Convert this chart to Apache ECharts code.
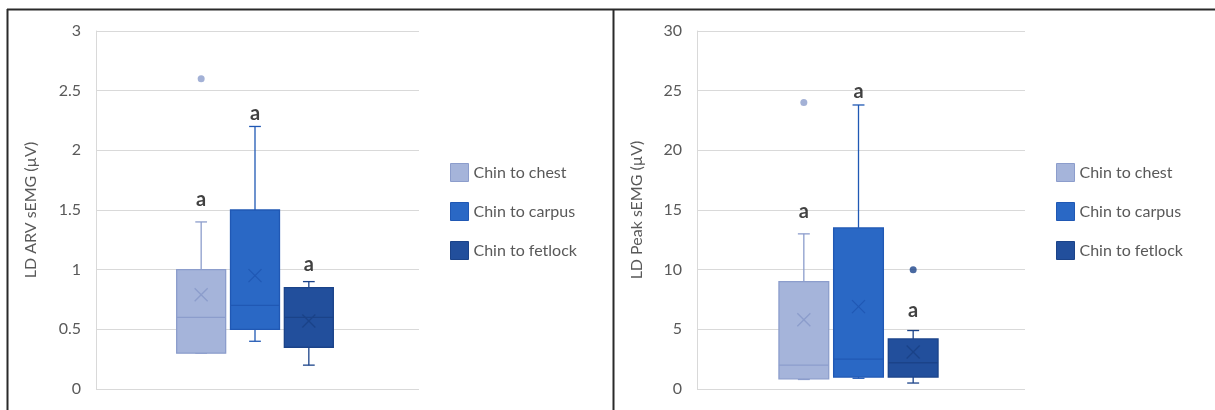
<!DOCTYPE html>
<html>
<head>
<meta charset="utf-8">
<script src="https://cdn.jsdelivr.net/npm/echarts@6/dist/echarts.min.js"></script>
<style>
  html, body { margin: 0; padding: 0; background: #fff; }
  #chart { width: 1215px; height: 410px; }
</style>
</head>
<body>
<div id="chart"></div>
<script>
// groups shown in both panels
const groups = ['Chin to chest', 'Chin to carpus', 'Chin to fetlock'];
// hidden x slots, groups sit on slots 2,3,4
const slots = ['s0', 's1', 's2', 's3', 's4', 's5', 's6'];

// LD ARV: [min, Q1, median, Q3, max]
const arvBoxes = [
    [0.3, 0.3, 0.6, 1.0, 1.4],
    [0.4, 0.5, 0.7, 1.5, 2.2],
    [0.2, 0.35, 0.6, 0.85, 0.9]
];
const arvMeans = [0.79, 0.95, 0.57];
const arvOutliers = [[0, 2.6]];          // [group, value]
const arvLetterY = [1.59, 2.31, 1.04];

// LD Peak
const peakBoxes = [
    [0.8, 0.85, 2.0, 9.0, 13.0],
    [0.9, 1.0, 2.5, 13.5, 23.8],
    [0.5, 1.0, 2.2, 4.2, 4.9]
];
const peakMeans = [5.8, 6.9, 3.1];
const peakOutliers = [[0, 24.0], [2, 10.0]];
const peakLetterY = [14.9, 24.9, 6.6];

const letters = ['a', 'a', 'a'];

const fills = ['#A5B4DA', '#2A68C5', '#224F9C'];
const strokes = ['#8C9DCC', '#2058B4', '#1B4389'];
const font = 'Lato, "Open Sans", sans-serif';
const grey = '#595959';

let myChart = echarts.init(document.getElementById('chart'));

function makeRender(gi) {
    return function (params, api) {
        const x = api.value(0);
        const lo = api.coord([x, api.value(1)]);
        const q1 = api.coord([x, api.value(2)]);
        const md = api.coord([x, api.value(3)]);
        const q3 = api.coord([x, api.value(4)]);
        const hi = api.coord([x, api.value(5)]);
        const mn = api.coord([x, api.value(6)]);
        const bw = api.size([1, 0])[0] * 0.91;
        const cap = bw * 0.12;
        const cx = lo[0] - 2.5;
        const ln = { stroke: strokes[gi], lineWidth: 1.3 };
        const mk = 6.5;
        return {
            type: 'group',
            children: [
                { type: 'line', shape: { x1: cx, y1: q3[1], x2: cx, y2: hi[1] }, style: ln },
                { type: 'line', shape: { x1: cx - cap, y1: hi[1], x2: cx + cap, y2: hi[1] }, style: ln },
                { type: 'line', shape: { x1: cx, y1: q1[1], x2: cx, y2: lo[1] }, style: ln },
                { type: 'line', shape: { x1: cx - cap, y1: lo[1], x2: cx + cap, y2: lo[1] }, style: ln },
                {
                    type: 'rect',
                    shape: { x: cx - bw / 2, y: q3[1], width: bw, height: q1[1] - q3[1] },
                    style: { fill: fills[gi], stroke: strokes[gi], lineWidth: 1.3 }
                },
                { type: 'line', shape: { x1: cx - bw / 2, y1: md[1], x2: cx + bw / 2, y2: md[1] }, style: ln },
                { type: 'line', shape: { x1: cx - mk, y1: mn[1] - mk, x2: cx + mk, y2: mn[1] + mk }, style: ln },
                { type: 'line', shape: { x1: cx - mk, y1: mn[1] + mk, x2: cx + mk, y2: mn[1] - mk }, style: ln }
            ]
        };
    };
}

function panelSeries(p, boxes, means, outliers, letterY) {
    const out = [];
    boxes.forEach(function (b, i) {
        out.push({
            name: groups[i],
            type: 'custom',
            xAxisIndex: p,
            yAxisIndex: p,
            itemStyle: { color: fills[i] },
            renderItem: makeRender(i),
            data: [[i + 2].concat(b, [means[i]])]
        });
    });
    out.push({
        type: 'scatter',
        xAxisIndex: p,
        yAxisIndex: p,
        symbolSize: 7,
        symbolOffset: [-2.5, 0],
        data: outliers.map(function (o) {
            return { value: [o[0] + 2, o[1]], itemStyle: { color: strokes[o[0]] } };
        })
    });
    out.push({
        type: 'scatter',
        xAxisIndex: p,
        yAxisIndex: p,
        symbolSize: 1,
        symbolOffset: [-2.5, 0],
        itemStyle: { color: 'rgba(0,0,0,0)' },
        label: {
            show: true,
            position: 'inside',
            formatter: function (d) { return letters[d.dataIndex]; },
            fontFamily: font,
            fontWeight: 'bold',
            fontSize: 20,
            color: '#111'
        },
        data: letterY.map(function (y, i) { return [i + 2, y]; })
    });
    return out;
}

function legendFor(left) {
    return {
        orient: 'vertical',
        left: left,
        top: 158,
        icon: 'rect',
        itemWidth: 18,
        itemHeight: 18,
        itemGap: 20,
        textStyle: { fontFamily: font, fontSize: 16, color: grey },
        data: groups.map(function (g, i) {
            return { name: g, itemStyle: { color: fills[i], borderColor: strokes[i], borderWidth: 1 } };
        })
    };
}

function yAxisFor(p, name, max, step, gap) {
    return {
        type: 'value',
        gridIndex: p,
        min: 0,
        max: max,
        interval: step,
        name: name,
        nameLocation: 'middle',
        nameGap: gap,
        nameTextStyle: { fontFamily: font, fontSize: 16, color: grey },
        axisLine: { show: true, lineStyle: { color: '#D9D9D9', width: 1 } },
        axisTick: { show: false },
        axisLabel: { fontFamily: font, fontSize: 16, color: grey, margin: 15 },
        splitLine: { lineStyle: { color: '#D9D9D9', width: 1.2 } }
    };
}

var option = {
    animation: false,
    backgroundColor: '#fff',
    grid: [
        { left: 96, top: 31, width: 323, height: 358 },
        { left: 697, top: 31, width: 328, height: 358 }
    ],
    legend: [legendFor(445), legendFor(1051)],
    xAxis: [0, 1].map(function (p) {
        return { type: 'category', gridIndex: p, data: slots, boundaryGap: false, show: false };
    }),
    yAxis: [
        yAxisFor(0, 'LD ARV sEMG (µV)', 3, 0.5, 57),
        yAxisFor(1, 'LD Peak sEMG (µV)', 30, 5, 52)
    ],
    graphic: [
        { type: 'line', shape: { x1: 7, y1: 9.5, x2: 1215, y2: 9.5 }, style: { stroke: '#2a2a2a', lineWidth: 2 } },
        { type: 'line', shape: { x1: 7.5, y1: 9, x2: 7.5, y2: 410 }, style: { stroke: '#2a2a2a', lineWidth: 2 } },
        { type: 'line', shape: { x1: 613.5, y1: 9, x2: 613.5, y2: 410 }, style: { stroke: '#2a2a2a', lineWidth: 2 } }
    ],
    series: panelSeries(0, arvBoxes, arvMeans, arvOutliers, arvLetterY)
        .concat(panelSeries(1, peakBoxes, peakMeans, peakOutliers, peakLetterY))
};

option && myChart.setOption(option);
</script>
</body>
</html>
